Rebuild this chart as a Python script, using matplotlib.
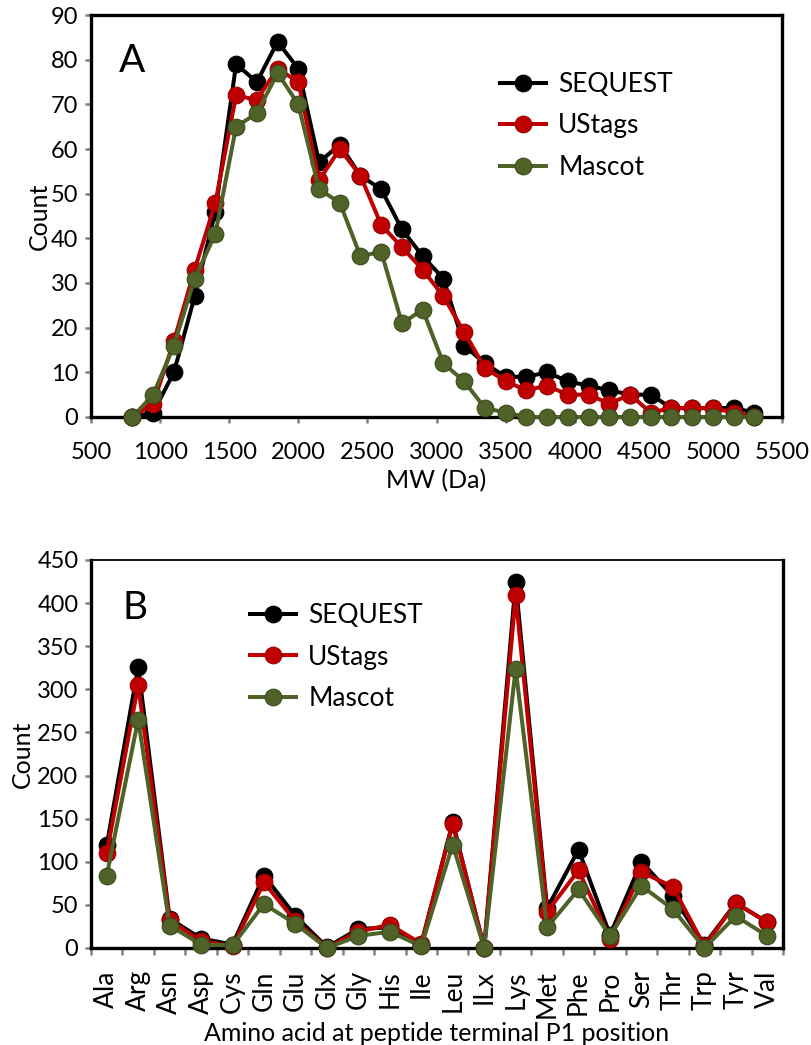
import matplotlib
matplotlib.use("Agg")
import matplotlib.pyplot as plt
from matplotlib.ticker import MultipleLocator, FixedLocator

plt.rcParams['font.family'] = ['Lato', 'DejaVu Sans']

# ---------------- Panel A data ----------------
mw = [800, 950, 1100, 1250, 1400, 1550, 1700, 1850, 2000, 2150, 2300,
      2450, 2600, 2750, 2900, 3050, 3200, 3350, 3500, 3650, 3800, 3950,
      4100, 4250, 4400, 4550, 4700, 4850, 5000, 5150, 5300]
sequest_a = [0, 1, 10, 27, 46, 79, 75, 84, 78, 57, 61, 54, 51, 42, 36, 31,
             16, 12, 9, 9, 10, 8, 7, 6, 5, 5, 2, 2, 2, 2, 1]
ustags_a = [0, 3, 17, 33, 48, 72, 71, 78, 75, 53, 60, 54, 43, 38, 33, 27,
            19, 11, 8, 6, 7, 5, 5, 3, 5, 1, 2, 2, 2, 1, 0]
mascot_a = [0, 5, 16, 31, 41, 65, 68, 77, 70, 51, 48, 36, 37, 21, 24, 12,
            8, 2, 1, 0, 0, 0, 0, 0, 0, 0, 0, 0, 0, 0, 0]

# ---------------- Panel B data ----------------
amino = ['Ala', 'Arg', 'Asn', 'Asp', 'Cys', 'Gln', 'Glu', 'Glx', 'Gly',
         'His', 'Ile', 'Leu', 'ILx', 'Lys', 'Met', 'Phe', 'Pro', 'Ser',
         'Thr', 'Trp', 'Tyr', 'Val']
sequest_b = [119, 326, 34, 11, 4, 84, 37, 1, 22, 24, 4, 146, 0, 424, 46,
             114, 15, 100, 60, 4, 52, 30]
ustags_b = [110, 305, 32, 8, 2, 76, 31, 0, 19, 27, 5, 144, 0, 409, 42,
            90, 11, 88, 71, 2, 52, 30]
mascot_b = [84, 265, 26, 4, 3, 51, 28, 0, 14, 19, 2, 120, 0, 324, 24,
            68, 14, 72, 45, 0, 37, 14]

series_names = ['SEQUEST', 'UStags', 'Mascot']
colors = ['#000000', '#C00000', '#4F6228']
edge_colors = ['#000000', '#9A0000', '#3A4A1C']

FS = 17
FS_LAB = 18
FS_LEG = 19
fig = plt.figure(figsize=(8.12, 10.45), dpi=100)

def style_axes(ax, top_lw):
    for side in ['left', 'bottom', 'right']:
        ax.spines[side].set_linewidth(2.4)
        ax.spines[side].set_color('black')
    ax.spines['top'].set_linewidth(top_lw)
    ax.spines['top'].set_color('black')
    ax.tick_params(axis='both', which='both', direction='out', color='#808080',
                   length=4, width=1.8, labelsize=FS,
                   top=False, right=False)
    ax.tick_params(axis='y', pad=5)

def plot_series(ax, x, ys):
    for y, c, ec, name in zip(ys, colors, edge_colors, series_names):
        ax.plot(x, y, color=c, lw=2.9, marker='o', ms=12,
                markerfacecolor=c, markeredgecolor=ec, markeredgewidth=0.8,
                solid_joinstyle='round', label=name, clip_on=False, zorder=3)

# ---------------- Panel A ----------------
axA = fig.add_axes([91/812, 1-417/1045, 691/812, 402/1045])
plot_series(axA, mw, [sequest_a, ustags_a, mascot_a])
axA.set_xlim(500, 5500)
axA.set_ylim(0, 90)
axA.xaxis.set_major_locator(MultipleLocator(500))
axA.yaxis.set_major_locator(MultipleLocator(10))
style_axes(axA, 2.4)
axA.tick_params(axis='x', pad=14)
axA.set_xlabel('MW (Da)', fontsize=FS_LAB, labelpad=4)
axA.set_ylabel('Count', fontsize=FS_LAB, labelpad=0)
axA.text(0.04, 0.885, 'A', transform=axA.transAxes, fontsize=28,
         ha='left', va='center')
axA.legend(loc='center left', bbox_to_anchor=(0.592, 0.724), frameon=False,
           fontsize=FS_LEG, borderpad=0, borderaxespad=0, handlelength=1.75,
           handletextpad=0.45, labelspacing=0.62)

# ---------------- Panel B ----------------
axB = fig.add_axes([91/812, 1-948/1045, 692/812, 388/1045])
xpos = list(range(len(amino)))
plot_series(axB, xpos, [sequest_b, ustags_b, mascot_b])
axB.set_xlim(-0.5, len(amino) - 0.5)
axB.set_ylim(0, 450)
axB.yaxis.set_major_locator(MultipleLocator(50))
axB.set_xticks(xpos)
axB.set_xticklabels(amino, rotation=90, fontsize=19)
axB.xaxis.set_minor_locator(FixedLocator([i - 0.5 for i in range(len(amino) + 1)]))
style_axes(axB, 1.3)
axB.tick_params(axis='x', which='major', length=0, pad=16, labelsize=19)
axB.tick_params(axis='x', which='minor', length=5)
axB.set_xlabel('Amino acid at peptide terminal P1 position', fontsize=FS_LAB, labelpad=3)
axB.set_ylabel('Count', fontsize=FS_LAB, labelpad=2)
axB.text(0.045, 0.876, 'B', transform=axB.transAxes, fontsize=28,
         ha='left', va='center')
axB.legend(loc='center left', bbox_to_anchor=(0.23, 0.75), frameon=False,
           fontsize=FS_LEG, borderpad=0, borderaxespad=0, handlelength=1.75,
           handletextpad=0.45, labelspacing=0.62)

fig.savefig('out.png', dpi=100)
